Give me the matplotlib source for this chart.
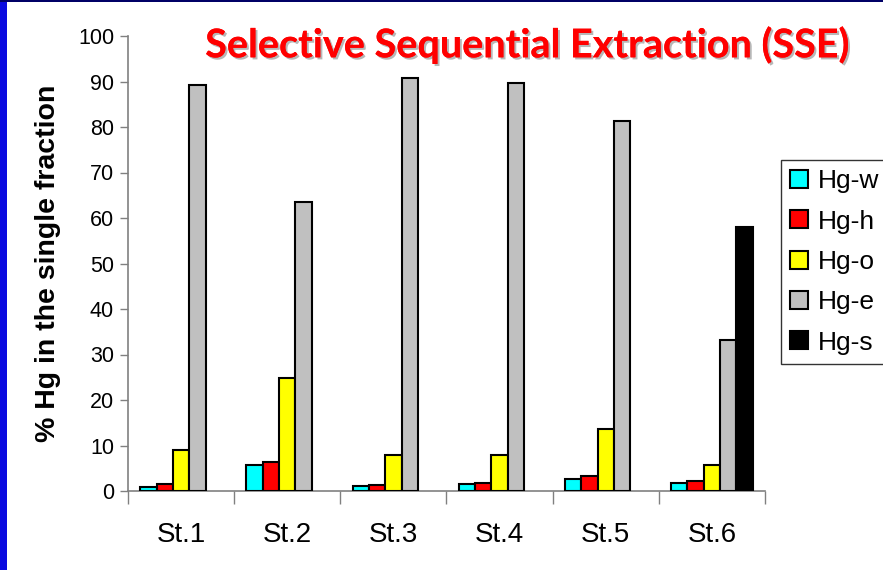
import matplotlib.pyplot as plt
import matplotlib.patheffects as pe
import numpy as np

plt.rcParams['font.family'] = ['Liberation Sans', 'DejaVu Sans']

# stations and Hg fractions (% of total Hg)
stations = ['St.1', 'St.2', 'St.3', 'St.4', 'St.5', 'St.6']
fractions = ['Hg-w', 'Hg-h', 'Hg-o', 'Hg-e', 'Hg-s']
hg_w = [0.9, 5.8, 1.0, 1.5, 2.6, 1.8]
hg_h = [1.5, 6.3, 1.25, 1.8, 3.3, 2.1]
hg_o = [9.1, 24.8, 7.9, 7.9, 13.6, 5.8]
hg_e = [89.2, 63.5, 90.8, 89.7, 81.3, 33.2]
hg_s = [0, 0, 0, 0, 0, 58.0]
colors = ['#00FFFF', '#FF0000', '#FFFF00', '#C0C0C0', '#000000']

fig = plt.figure(figsize=(8.83, 5.70), dpi=100)
fig.patch.set_facecolor('white')

# slide border (blue strip on the left, navy line on top)
fig.patches.append(plt.Rectangle((0, 0), 7 / 883, 1, transform=fig.transFigure,
                                 facecolor='#0a0ae0', edgecolor='none', zorder=0))
fig.patches.append(plt.Rectangle((0, 1 - 2 / 570), 1, 2 / 570, transform=fig.transFigure,
                                 facecolor='#000066', edgecolor='none', zorder=0))

ax = fig.add_axes([128 / 883, 1 - 491 / 570, 637 / 883, 455 / 570])

x = np.arange(len(stations))
w = 0.154
series = [hg_w, hg_h, hg_o, hg_e, hg_s]
for i, (name, vals, c) in enumerate(zip(fractions, series, colors)):
    vals = np.array(vals, dtype=float)
    keep = vals > 0
    ax.bar(x[keep] + (i - 2) * w, vals[keep], width=w, color=c,
           edgecolor='black', linewidth=1.5, label=name, zorder=3)

ax.set_xlim(-0.5, len(stations) - 0.5)
ax.set_ylim(0, 100)
ax.set_yticks(np.arange(0, 101, 10))
ax.tick_params(axis='y', direction='out', length=6, width=1, color='#808080',
               labelsize=15.5, pad=4)

# category boundaries as ticks, names centred between them
ax.set_xticks(np.arange(-0.5, len(stations), 1))
ax.set_xticklabels([])
ax.set_xticks(x, minor=True)
ax.set_xticklabels(stations, minor=True, fontsize=20)
ax.tick_params(axis='x', which='major', direction='out', length=9, width=1, color='#808080')
ax.tick_params(axis='x', which='minor', length=0, pad=22)

for s in ['top', 'right']:
    ax.spines[s].set_visible(False)
for s in ['left', 'bottom']:
    ax.spines[s].set_color('#808080')
    ax.spines[s].set_linewidth(1.2)

ax.set_ylabel('% Hg in the single fraction', fontsize=20.5, fontweight='bold', labelpad=12)

fig.text(528 / 883, 1 - 45 / 570, 'Selective Sequential Extraction (SSE)',
         ha='center', va='center', color='#FF0000', fontsize=28.5, fontweight='bold',
         family='Lato',
         path_effects=[pe.withSimplePatchShadow(offset=(1.5, -1.5), shadow_rgbFace='#888888', alpha=0.6),
                       pe.Normal()])

# legend box runs past the right edge of the figure
leg = fig.legend(loc='upper left', bbox_to_anchor=(781 / 883, 1 - 160 / 570),
                 fontsize=19, frameon=True, fancybox=False, handlelength=0.68,
                 handleheight=0.68, handletextpad=0.35, labelspacing=0.62,
                 borderpad=0.35, borderaxespad=0)
leg.get_frame().set_edgecolor('black')
leg.get_frame().set_linewidth(1)

plt.savefig('out.png', dpi=100)
